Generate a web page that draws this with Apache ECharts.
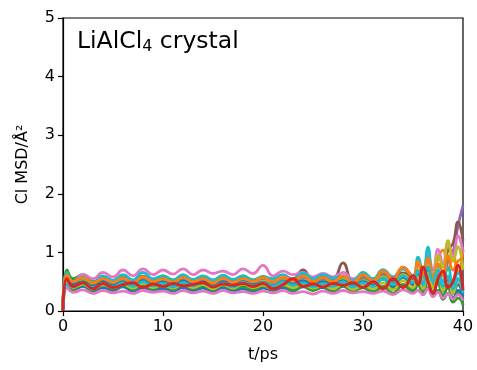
<!DOCTYPE html>
<html>
<head>
<meta charset="utf-8">
<script src="https://cdn.jsdelivr.net/npm/echarts@6/dist/echarts.min.js"></script>
<style>html,body{margin:0;padding:0;background:#fff;}#c{width:477px;height:370px;}</style>
</head>
<body>
<div id="c"></div>
<script>
// time points (ps)
const times = [0, 0.4,
  1,2,3,4,5,6,7,8,9,10,11,12,13,14,15,16,17,18,19,20,
  21,22,23,24,25,26,27,28,29,30,31,32,33,34,35,
  35.5,36,36.5,37,37.5,38,38.5,39,39.5,40];

const xTicks = [0, 10, 20, 30, 40];
const yTicks = [0, 1, 2, 3, 4, 5];

const blue1 = [0,0.50, 0.36,0.42,0.34,0.40,0.35, 0.41,0.33,0.40,0.35,0.38, 0.34,0.40,0.35,0.39,0.33, 0.40,0.34,0.38,0.33,0.39, 0.35,0.40,0.34,0.41,0.36, 0.40,0.33,0.42,0.35,0.40, 0.32,0.42,0.30,0.45,0.33, 0.48,0.30,0.55,0.28,0.50,0.25,0.40,0.22,0.35,0.20];
const orange1 = [0,0.55, 0.40,0.48,0.38,0.46,0.40, 0.47,0.41,0.49,0.42,0.46, 0.40,0.48,0.42,0.50,0.41, 0.47,0.40,0.48,0.43,0.46, 0.40,0.47,0.42,0.50,0.44, 0.50,0.42,0.55,0.45,0.58, 0.48,0.65,0.50,0.72,0.55, 0.80,0.50,0.85,0.60,0.90,1.04,0.70,0.95,0.65,1.05];
const green1 = [0,0.70, 0.55,0.62,0.50,0.58,0.52, 0.60,0.50,0.58,0.52,0.60, 0.53,0.61,0.52,0.58,0.50, 0.57,0.51,0.60,0.53,0.58, 0.50,0.57,0.52,0.60,0.49, 0.55,0.48,0.56,0.45,0.52, 0.42,0.55,0.40,0.58,0.38, 0.55,0.35,0.60,0.30,0.50,0.25,0.45,0.18,0.30,0.10];
const purple1 = [0,0.60, 0.45,0.52,0.44,0.55,0.46, 0.53,0.45,0.55,0.47,0.52, 0.46,0.55,0.48,0.53,0.45, 0.52,0.47,0.56,0.48,0.53, 0.46,0.55,0.50,0.57,0.48, 0.55,0.50,0.58,0.47,0.55, 0.50,0.60,0.52,0.62,0.50, 0.65,0.55,0.70,0.50,0.75,0.60,0.85,1.00,1.45,1.80];
const brown1 = [0,0.62, 0.48,0.56,0.46,0.55,0.50, 0.57,0.49,0.58,0.50,0.56, 0.49,0.57,0.51,0.56,0.50, 0.58,0.50,0.56,0.49,0.57, 0.52,0.60,0.55,0.70,0.52, 0.62,0.55,0.82,0.50,0.60, 0.52,0.62,0.50,0.65,0.55, 0.68,0.50,0.72,0.55,0.80,0.65,1.05,1.15,1.52,1.20];
const pinkTop = [0,0.65, 0.50,0.62,0.55,0.66,0.58, 0.70,0.60,0.72,0.62,0.70, 0.63,0.72,0.62,0.70,0.64, 0.68,0.62,0.72,0.64,0.78, 0.60,0.68,0.62,0.66,0.58, 0.64,0.58,0.66,0.55,0.62, 0.55,0.70,0.58,0.75,0.60, 0.85,0.65,0.95,0.70,1.05,0.80,1.15,0.95,1.28,1.00];
const gray1 = [0,0.62, 0.48,0.55,0.47,0.56,0.49, 0.58,0.50,0.60,0.51,0.58, 0.50,0.60,0.52,0.57,0.50, 0.58,0.51,0.57,0.50,0.59, 0.52,0.60,0.53,0.62,0.52, 0.58,0.53,0.60,0.50,0.57, 0.50,0.62,0.48,0.60,0.46, 0.62,0.45,0.68,0.42,0.60,0.40,0.55,0.35,0.50,0.30];
const olive1 = [0,0.58, 0.44,0.52,0.42,0.50,0.45, 0.52,0.44,0.50,0.46,0.53, 0.45,0.51,0.44,0.52,0.46, 0.50,0.45,0.53,0.46,0.51, 0.44,0.52,0.47,0.53,0.45, 0.50,0.46,0.54,0.44,0.52, 0.46,0.58,0.45,0.62,0.50, 0.70,0.52,0.78,0.60,0.95,0.75,1.20,0.85,1.10,0.70];
const cyan1 = [0,0.66, 0.50,0.58,0.48,0.60,0.52, 0.62,0.53,0.66,0.55,0.60, 0.52,0.62,0.54,0.60,0.53, 0.61,0.54,0.60,0.52,0.58, 0.55,0.62,0.53,0.65,0.55, 0.62,0.56,0.60,0.52,0.66, 0.55,0.70,0.58,0.72,0.60, 0.92,0.60,1.09,0.55,0.80,0.50,0.75,0.45,0.65,0.40];
const blue2 = [0,0.58, 0.45,0.50,0.42,0.52,0.44, 0.50,0.43,0.52,0.45,0.50, 0.44,0.52,0.45,0.51,0.43, 0.50,0.44,0.52,0.45,0.49, 0.43,0.51,0.46,0.52,0.44, 0.50,0.45,0.52,0.43,0.50, 0.44,0.55,0.42,0.58,0.45, 0.62,0.40,0.70,0.45,0.62,0.35,0.55,0.30,0.45,0.25];
const orange2 = [0,0.62, 0.50,0.57,0.48,0.55,0.49, 0.56,0.48,0.58,0.50,0.55, 0.49,0.57,0.50,0.55,0.48, 0.56,0.49,0.55,0.50,0.57, 0.50,0.58,0.52,0.60,0.50, 0.57,0.50,0.60,0.48,0.62, 0.52,0.68,0.55,0.75,0.58, 0.85,0.62,0.90,0.55,0.80,0.60,0.95,0.70,0.85,0.90];
const green2 = [0,0.52, 0.38,0.45,0.36,0.44,0.38, 0.44,0.37,0.45,0.38,0.43, 0.37,0.44,0.38,0.43,0.36, 0.44,0.37,0.42,0.36,0.43, 0.37,0.44,0.36,0.42,0.35, 0.42,0.35,0.43,0.34,0.40, 0.33,0.42,0.30,0.45,0.32, 0.45,0.28,0.40,0.25,0.35,0.20,0.30,0.15,0.22,0.12];
const pinkLow = [0,0.40, 0.32,0.36,0.30,0.35,0.31, 0.34,0.30,0.35,0.32,0.34, 0.30,0.35,0.31,0.34,0.30, 0.35,0.31,0.33,0.30,0.34, 0.31,0.35,0.30,0.33,0.29, 0.34,0.30,0.35,0.31,0.33, 0.30,0.34,0.28,0.36,0.30, 0.35,0.28,0.38,0.25,0.32,0.22,0.30,0.20,0.28,0.18];
const olive2 = [0,0.50, 0.40,0.46,0.38,0.45,0.40, 0.46,0.39,0.47,0.40,0.45, 0.39,0.46,0.40,0.45,0.38, 0.45,0.39,0.46,0.40,0.44, 0.38,0.45,0.40,0.46,0.39, 0.44,0.38,0.46,0.37,0.44, 0.38,0.48,0.36,0.52,0.40, 0.58,0.38,0.65,0.40,0.72,0.35,0.60,0.30,0.50,0.35];
const cyan2 = [0,0.45, 0.42,0.48,0.40,0.47,0.41, 0.48,0.42,0.50,0.43,0.47, 0.41,0.49,0.43,0.48,0.42, 0.47,0.41,0.49,0.43,0.48, 0.42,0.50,0.44,0.48,0.41, 0.47,0.42,0.50,0.41,0.48, 0.42,0.55,0.45,0.60,0.48, 0.68,0.45,0.75,0.50,0.70,0.42,0.60,0.38,0.55,0.30];
const red1 = [0,0.55, 0.42,0.48,0.38,0.47,0.40, 0.45,0.48,0.40,0.46,0.42, 0.47,0.43,0.45,0.48,0.41, 0.46,0.44,0.47,0.42,0.47, 0.38,0.45,0.55,0.42,0.46, 0.41,0.47,0.44,0.48,0.40, 0.50,0.38,0.55,0.40,0.60, 0.45,0.75,0.50,0.30,0.55,0.68,0.40,0.50,0.78,0.35];

const seriesList = [
  ['blue1', blue1, '#1f77b4'],
  ['orange1', orange1, '#ff7f0e'],
  ['green1', green1, '#2ca02c'],
  ['purple1', purple1, '#9467bd'],
  ['brown1', brown1, '#8c564b'],
  ['pinkTop', pinkTop, '#e377c2'],
  ['gray1', gray1, '#7f7f7f'],
  ['olive1', olive1, '#bcbd22'],
  ['cyan1', cyan1, '#17becf'],
  ['blue2', blue2, '#1f77b4'],
  ['orange2', orange2, '#ff7f0e'],
  ['green2', green2, '#2ca02c'],
  ['pinkLow', pinkLow, '#e377c2'],
  ['olive2', olive2, '#bcbd22'],
  ['cyan2', cyan2, '#17becf'],
  ['red1', red1, '#d62728']
];

const FONT = 'DejaVu Sans';
const chart = echarts.init(document.getElementById('c'), null, {renderer: 'canvas'});
chart.setOption({
  animation: false,
  backgroundColor: '#fff',
  title: {
    text: '{a|LiAlCl}{b|4}{a| crystal}',
    left: 72, top: 24,
    textStyle: {
      fontWeight: 'normal',
      rich: {
        a: {fontFamily: FONT, fontSize: 23.5, fontWeight: 'normal', color: '#000'},
        b: {fontFamily: FONT, fontSize: 16, fontWeight: 'normal', color: '#000', verticalAlign: 'bottom', padding: [10, 0, 0, 0]}
      }
    }
  },
  grid: {left: 63, right: 14, top: 18, bottom: 59, show: true, borderColor: '#000', borderWidth: 1.2, backgroundColor: 'transparent'},
  xAxis: {
    type: 'value', min: 0, max: 40, interval: 10,
    name: 't/ps', nameLocation: 'middle', nameGap: 36,
    nameTextStyle: {fontFamily: FONT, fontSize: 16, color: '#000'},
    axisLine: {show: true, lineStyle: {color: '#000', width: 1.2}},
    axisTick: {show: true, inside: false, length: 5, lineStyle: {color: '#000', width: 1.2}},
    axisLabel: {fontFamily: FONT, fontSize: 16, color: '#000', margin: 8,
      formatter: v => xTicks.includes(v) ? String(v) : ''},
    splitLine: {show: false}
  },
  yAxis: {
    type: 'value', min: 0, max: 5, interval: 1,
    name: 'Cl MSD/Å²', nameLocation: 'middle', nameGap: 32,
    nameTextStyle: {fontFamily: FONT, fontSize: 16, color: '#000'},
    axisLine: {show: true, lineStyle: {color: '#000', width: 1.2}},
    axisTick: {show: true, inside: false, length: 5, lineStyle: {color: '#000', width: 1.2}},
    axisLabel: {fontFamily: FONT, fontSize: 16, color: '#000', margin: 8,
      formatter: v => yTicks.includes(v) ? String(v) : ''},
    splitLine: {show: false}
  },
  series: seriesList.map(([name, vals, color]) => ({
    name, type: 'line', smooth: 0.5, symbol: 'none',
    data: times.map((t, i) => [t, vals[i]]),
    lineStyle: {color, width: name === 'red1' ? 3 : 2.8},
    itemStyle: {color},
    clip: true
  }))
});
</script>
</body>
</html>
